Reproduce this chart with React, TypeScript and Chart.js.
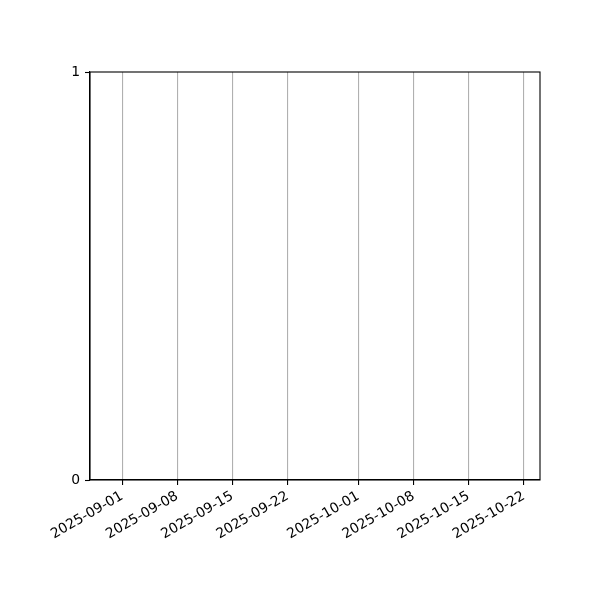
import React, { useEffect, useRef } from 'react';
import { Chart, ChartConfiguration, registerables } from 'chart.js';

Chart.register(...registerables);

const DAY = 86400000;
const toDay = (y: number, m: number, d: number) => Date.UTC(y, m - 1, d) / DAY;

// x range (days), tick dates and y ticks
const xRange = [toDay(2025, 8, 27) + 0.93, toDay(2025, 10, 24) + 0.05];
const tickDates = ['2025-09-01', '2025-09-08', '2025-09-15', '2025-09-22', '2025-10-01', '2025-10-08', '2025-10-15', '2025-10-22'];
const yTicks = [0, 1];
const seriesValues: { x: number; y: number }[] = [];

const parseDay = (s: string) => {
  const [y, m, d] = s.split('-').map(Number);
  return toDay(y, m, d);
};

const formatDay = (v: number) => new Date(Math.round(v) * DAY).toISOString().slice(0, 10);

const framePlugin = {
  id: 'frame',
  afterDraw: (chart: Chart) => {
    const { ctx, chartArea } = chart;
    ctx.save();
    ctx.strokeStyle = '#000';
    ctx.lineWidth = 1.1;
    ctx.strokeRect(chartArea.left, chartArea.top, chartArea.right - chartArea.left, chartArea.bottom - chartArea.top);
    ctx.restore();
  }
};

export default function App() {
  const chartRef = useRef<HTMLCanvasElement>(null);

  useEffect(() => {
    document.body.style.margin = '0';
    if (!chartRef.current) return;
    const ctx = chartRef.current.getContext('2d');
    if (!ctx) return;

    Chart.defaults.font.family = '"DejaVu Sans", sans-serif';
    Chart.defaults.font.size = 13.9;
    Chart.defaults.color = '#000';

    const config: ChartConfiguration = {
      type: 'line',
      data: {
        datasets: [{
          data: seriesValues,
          borderColor: '#1f77b4',
          pointRadius: 0
        }]
      },
      options: {
        responsive: false,
        animation: false,
        devicePixelRatio: 1,
        layout: { padding: { top: 72, right: 60, left: 0, bottom: 0 } },
        plugins: { legend: { display: false }, tooltip: { enabled: false } },
        scales: {
          x: {
            type: 'linear',
            min: xRange[0],
            max: xRange[1],
            afterBuildTicks: (scale) => {
              scale.ticks = tickDates.map((d) => ({ value: parseDay(d) }));
            },
            afterFit: (scale) => {
              scale.height = 120;
            },
            ticks: {
              autoSkip: false,
              minRotation: 30,
              maxRotation: 30,
              padding: 3,
              callback: (v) => formatDay(Number(v))
            },
            grid: {
              color: '#b0b0b0',
              lineWidth: 1.1,
              tickColor: '#000',
              tickLength: 5,
              tickWidth: 1.1
            },
            border: { display: true, color: '#000', width: 1.1 }
          },
          y: {
            type: 'linear',
            min: yTicks[0],
            max: yTicks[yTicks.length - 1],
            afterBuildTicks: (scale) => {
              scale.ticks = yTicks.map((v) => ({ value: v }));
            },
            afterFit: (scale) => {
              scale.width = 90;
            },
            ticks: { padding: 5, callback: (v) => String(v) },
            grid: {
              drawOnChartArea: false,
              tickColor: '#000',
              tickLength: 5,
              tickWidth: 1.1
            },
            border: { display: true, color: '#000', width: 1.1 }
          }
        }
      },
      plugins: [framePlugin]
    };

    const chart = new Chart(ctx, config);
    return () => {
      chart.destroy();
    };
  }, []);

  return (
    <div style={{ width: 600, height: 600, background: '#fff' }}>
      <canvas ref={chartRef} width={600} height={600} />
    </div>
  );
}
